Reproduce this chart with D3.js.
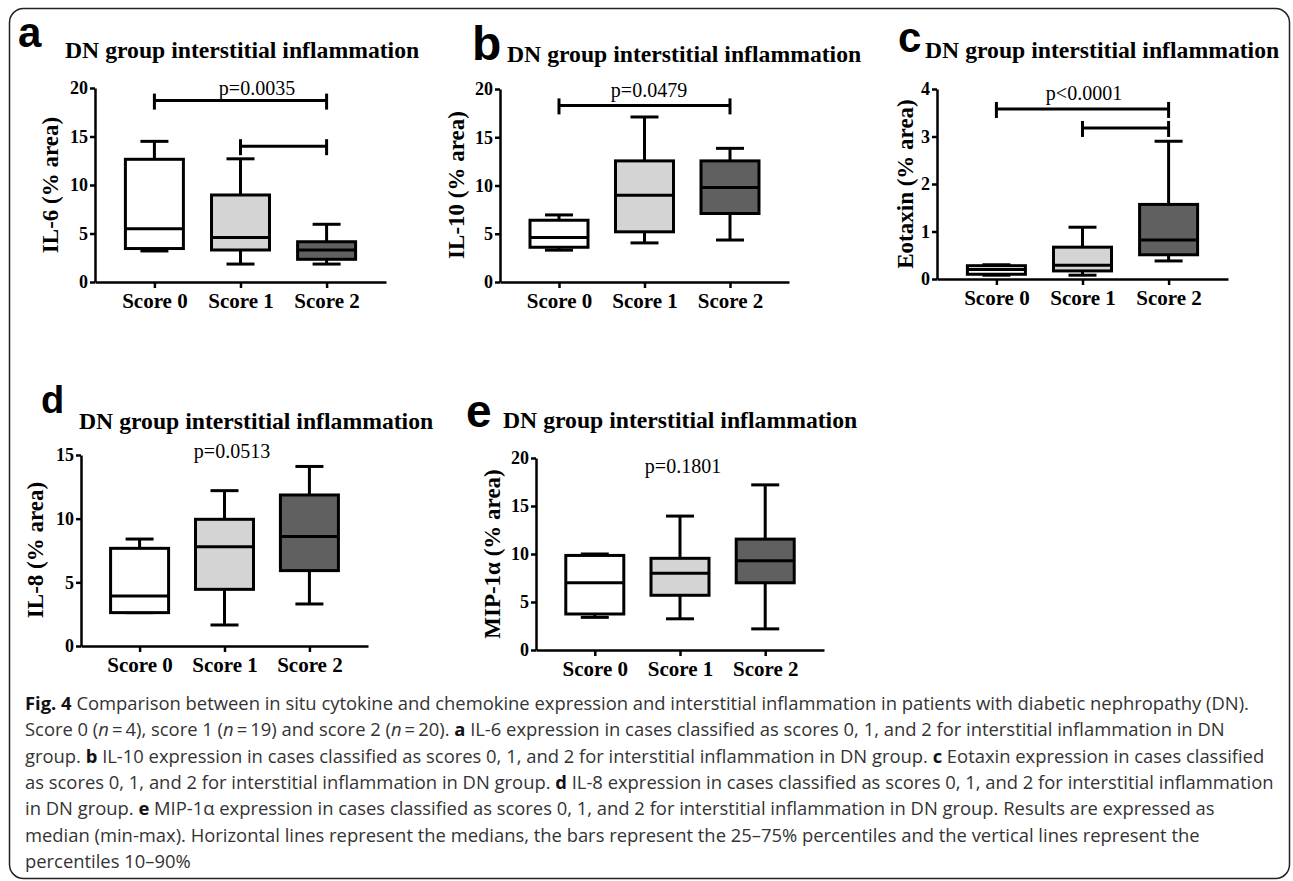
<!DOCTYPE html>
<html>
<head>
<meta charset="utf-8">
<script src="https://cdn.jsdelivr.net/npm/d3@7"></script>
<style>
  body { margin: 0; background: #fff; }
  .axis path, .axis line { stroke: #000; stroke-width: 2.5; }
  .axis text { font-family: "Liberation Serif", "Times New Roman", serif; font-weight: bold; fill: #000; }
  .caption { font-family: "Open Sans", sans-serif; fill: #333; }
</style>
</head>
<body>
<div id="chart"></div>
<script>

// categories on every x axis
var categories = ["Score 0", "Score 1", "Score 2"];
var fills = ["#ffffff", "#d4d4d4", "#606060"];

// box stats per category: [min(10th), q1, median, q3, max(90th)]
var il6 = [[3.2, 3.45, 5.5, 12.65, 14.5], [1.85, 3.3, 4.6, 8.97, 12.7], [1.85, 2.34, 3.3, 4.15, 5.95]];
var il10 = [[3.3, 3.6, 4.6, 6.4, 6.95], [4.05, 5.2, 9.0, 12.55, 17.1], [4.35, 7.1, 9.8, 12.55, 13.85]];
var eotaxin = [[0.08, 0.1, 0.2, 0.28, 0.3], [0.08, 0.17, 0.29, 0.67, 1.09], [0.38, 0.51, 0.82, 1.57, 2.9]];
var il8 = [[2.62, 2.62, 3.93, 7.67, 8.4], [1.65, 4.45, 7.8, 9.95, 12.2], [3.3, 5.92, 8.6, 11.86, 14.1]];
var mip1a = [[3.4, 3.75, 7.0, 9.85, 10.0], [3.25, 5.7, 8.0, 9.55, 13.95], [2.2, 7.0, 9.3, 11.55, 17.2]];

// significance brackets: [from category, to category, y value]
var il6Sig = [[0, 2, 18.7], [1, 2, 14.0]];
var il10Sig = [[0, 2, 18.3]];
var eotaxinSig = [[0, 2, 3.58], [1, 2, 3.18]];

var yTicks20 = [0, 5, 10, 15, 20];
var yTicks4 = [0, 1, 2, 3, 4];
var yTicks15 = [0, 5, 10, 15];

var pTexts = ["p=0.0035", "p=0.0479", "p<0.0001", "p=0.0513", "p=0.1801"];
var letters = ["a", "b", "c", "d", "e"];
var yLabels = ["IL-6 (% area)", "IL-10 (% area)", "Eotaxin (% area)", "IL-8 (% area)", "MIP-1\u03b1 (% area)"];
var title = "DN group interstitial inflammation";

var captionLines = [
  [["b", "Fig. 4"], ["", " Comparison between in situ cytokine and chemokine expression and interstitial inflammation in patients with diabetic nephropathy (DN)."]],
  [["", "Score 0 ("], ["i", "n"], ["", "\u2009=\u20094), score 1 ("], ["i", "n"], ["", "\u2009=\u200919) and score 2 ("], ["i", "n"], ["", "\u2009=\u200920). "], ["b", "a"], ["", " IL-6 expression in cases classified as scores 0, 1, and 2 for interstitial inflammation in DN"]],
  [["", "group. "], ["b", "b"], ["", " IL-10 expression in cases classified as scores 0, 1, and 2 for interstitial inflammation in DN group. "], ["b", "c"], ["", " Eotaxin expression in cases classified"]],
  [["", "as scores 0, 1, and 2 for interstitial inflammation in DN group. "], ["b", "d"], ["", " IL-8 expression in cases classified as scores 0, 1, and 2 for interstitial inflammation"]],
  [["", "in DN group. "], ["b", "e"], ["", " MIP-1\u03b1 expression in cases classified as scores 0, 1, and 2 for interstitial inflammation in DN group. Results are expressed as"]],
  [["", "median (min-max). Horizontal lines represent the medians, the bars represent the 25\u201375% percentiles and the vertical lines represent the"]],
  [["", "percentiles 10\u201390%"]]
];

// panel layout (pixels)
var panels = [
  {data: il6, sig: il6Sig, ticks: yTicks20, max: 20, x0: 95, x1: 386, yTop: 88, y0: 282,
   letter: [18, 47, 42], title: [65, 58], ylab: [50, 185], p: [257, 95]},
  {data: il10, sig: il10Sig, ticks: yTicks20, max: 20, x0: 500, x1: 789, yTop: 89, y0: 282,
   letter: [472, 60, 48], title: [507, 62], ylab: [456, 185], p: [649, 97]},
  {data: eotaxin, sig: eotaxinSig, ticks: yTicks4, max: 4, x0: 937, x1: 1228, yTop: 89, y0: 279,
   letter: [898, 52, 42], title: [925, 58], ylab: [905, 184], p: [1084, 100]},
  {data: il8, sig: [], ticks: yTicks15, max: 15, x0: 81, x1: 368, yTop: 455, y0: 646,
   letter: [41, 413, 38], title: [79, 429], ylab: [35, 550], p: [232, 458]},
  {data: mip1a, sig: [], ticks: yTicks20, max: 20, x0: 536, x1: 824, yTop: 458, y0: 650,
   letter: [466, 427, 46], title: [503, 428], ylab: [492, 554], p: [683, 473]}
];

var width = 1293, height = 881;
var svg = d3.select("#chart").append("svg")
    .attr("width", width)
    .attr("height", height);

svg.append("rect")
    .attr("x", 9.5).attr("y", 8.5)
    .attr("width", 1280).attr("height", 870)
    .attr("rx", 14)
    .attr("fill", "none")
    .attr("stroke", "#222")
    .attr("stroke-width", 1.5);

var boxW = 58, capW = 28;

panels.forEach(function(p, i) {
    var g = svg.append("g");

    var xScale = d3.scalePoint()
        .domain(categories)
        .range([p.x0, p.x1])
        .padding(0.69);

    var yScale = d3.scaleLinear()
        .domain([0, p.max])
        .range([p.y0, p.yTop]);

    g.append("g")
        .attr("class", "axis")
        .attr("transform", "translate(0," + p.y0 + ")")
        .call(d3.axisBottom(xScale).tickSize(6).tickSizeOuter(0).tickPadding(5))
        .selectAll("text").style("font-size", "21px");

    g.append("g")
        .attr("class", "axis")
        .attr("transform", "translate(" + p.x0 + ",0)")
        .call(d3.axisLeft(yScale).tickValues(p.ticks).tickFormat(d3.format("d"))
            .tickSize(5).tickSizeOuter(0).tickPadding(2))
        .selectAll("text").style("font-size", "18px");

    // boxes
    var box = g.selectAll(".box")
        .data(p.data)
        .enter()
        .append("g");

    box.append("line")
        .attr("x1", function(d, j) { return xScale(categories[j]); })
        .attr("x2", function(d, j) { return xScale(categories[j]); })
        .attr("y1", function(d) { return yScale(d[4]); })
        .attr("y2", function(d) { return yScale(d[0]); })
        .attr("stroke", "#000").attr("stroke-width", 3);

    [0, 4].forEach(function(k) {
        box.append("line")
            .attr("x1", function(d, j) { return xScale(categories[j]) - capW / 2; })
            .attr("x2", function(d, j) { return xScale(categories[j]) + capW / 2; })
            .attr("y1", function(d) { return yScale(d[k]); })
            .attr("y2", function(d) { return yScale(d[k]); })
            .attr("stroke", "#000").attr("stroke-width", 3);
    });

    box.append("rect")
        .attr("x", function(d, j) { return xScale(categories[j]) - boxW / 2; })
        .attr("y", function(d) { return yScale(d[3]); })
        .attr("width", boxW)
        .attr("height", function(d) { return yScale(d[1]) - yScale(d[3]); })
        .attr("fill", function(d, j) { return fills[j]; })
        .attr("stroke", "#000").attr("stroke-width", 3);

    box.append("line")
        .attr("x1", function(d, j) { return xScale(categories[j]) - boxW / 2; })
        .attr("x2", function(d, j) { return xScale(categories[j]) + boxW / 2; })
        .attr("y1", function(d) { return yScale(d[2]); })
        .attr("y2", function(d) { return yScale(d[2]); })
        .attr("stroke", "#000").attr("stroke-width", 3);

    // significance brackets
    p.sig.forEach(function(s) {
        var xa = xScale(categories[s[0]]), xb = xScale(categories[s[1]]), y = yScale(s[2]);
        g.append("line").attr("x1", xa).attr("x2", xb).attr("y1", y).attr("y2", y)
            .attr("stroke", "#000").attr("stroke-width", 3);
        [xa, xb].forEach(function(x) {
            g.append("line").attr("x1", x).attr("x2", x).attr("y1", y - 7).attr("y2", y + 9)
                .attr("stroke", "#000").attr("stroke-width", 3);
        });
    });

    g.append("text")
        .attr("x", p.p[0]).attr("y", p.p[1])
        .attr("text-anchor", "middle")
        .style("font-family", "'Liberation Serif', 'Times New Roman', serif")
        .style("font-size", "20px")
        .text(pTexts[i]);

    g.append("text")
        .attr("transform", "translate(" + p.ylab[0] + "," + p.ylab[1] + ") rotate(-90)")
        .attr("text-anchor", "middle")
        .attr("dy", "0.35em")
        .style("font-family", "'Liberation Serif', 'Times New Roman', serif")
        .style("font-weight", "bold")
        .style("font-size", "23px")
        .text(yLabels[i]);

    g.append("text")
        .attr("x", p.letter[0]).attr("y", p.letter[1])
        .style("font-family", "'Liberation Sans', Arial, sans-serif")
        .style("font-weight", "bold")
        .style("font-size", p.letter[2] + "px")
        .text(letters[i]);

    g.append("text")
        .attr("x", p.title[0]).attr("y", p.title[1])
        .style("font-family", "'Liberation Serif', 'Times New Roman', serif")
        .style("font-weight", "bold")
        .style("font-size", "23.7px")
        .text(title);
});

// caption
var cap = svg.append("g").attr("class", "caption");
captionLines.forEach(function(line, i) {
    var t = cap.append("text")
        .attr("x", 25)
        .attr("y", 710 + i * 26.3)
        .style("font-size", "18.4px");
    line.forEach(function(part) {
        var ts = t.append("tspan").text(part[1]);
        if (part[0] == "b") ts.style("font-weight", "bold").style("fill", "#111");
        if (part[0] == "i") ts.style("font-style", "italic");
    });
});

</script>
</body>
</html>
